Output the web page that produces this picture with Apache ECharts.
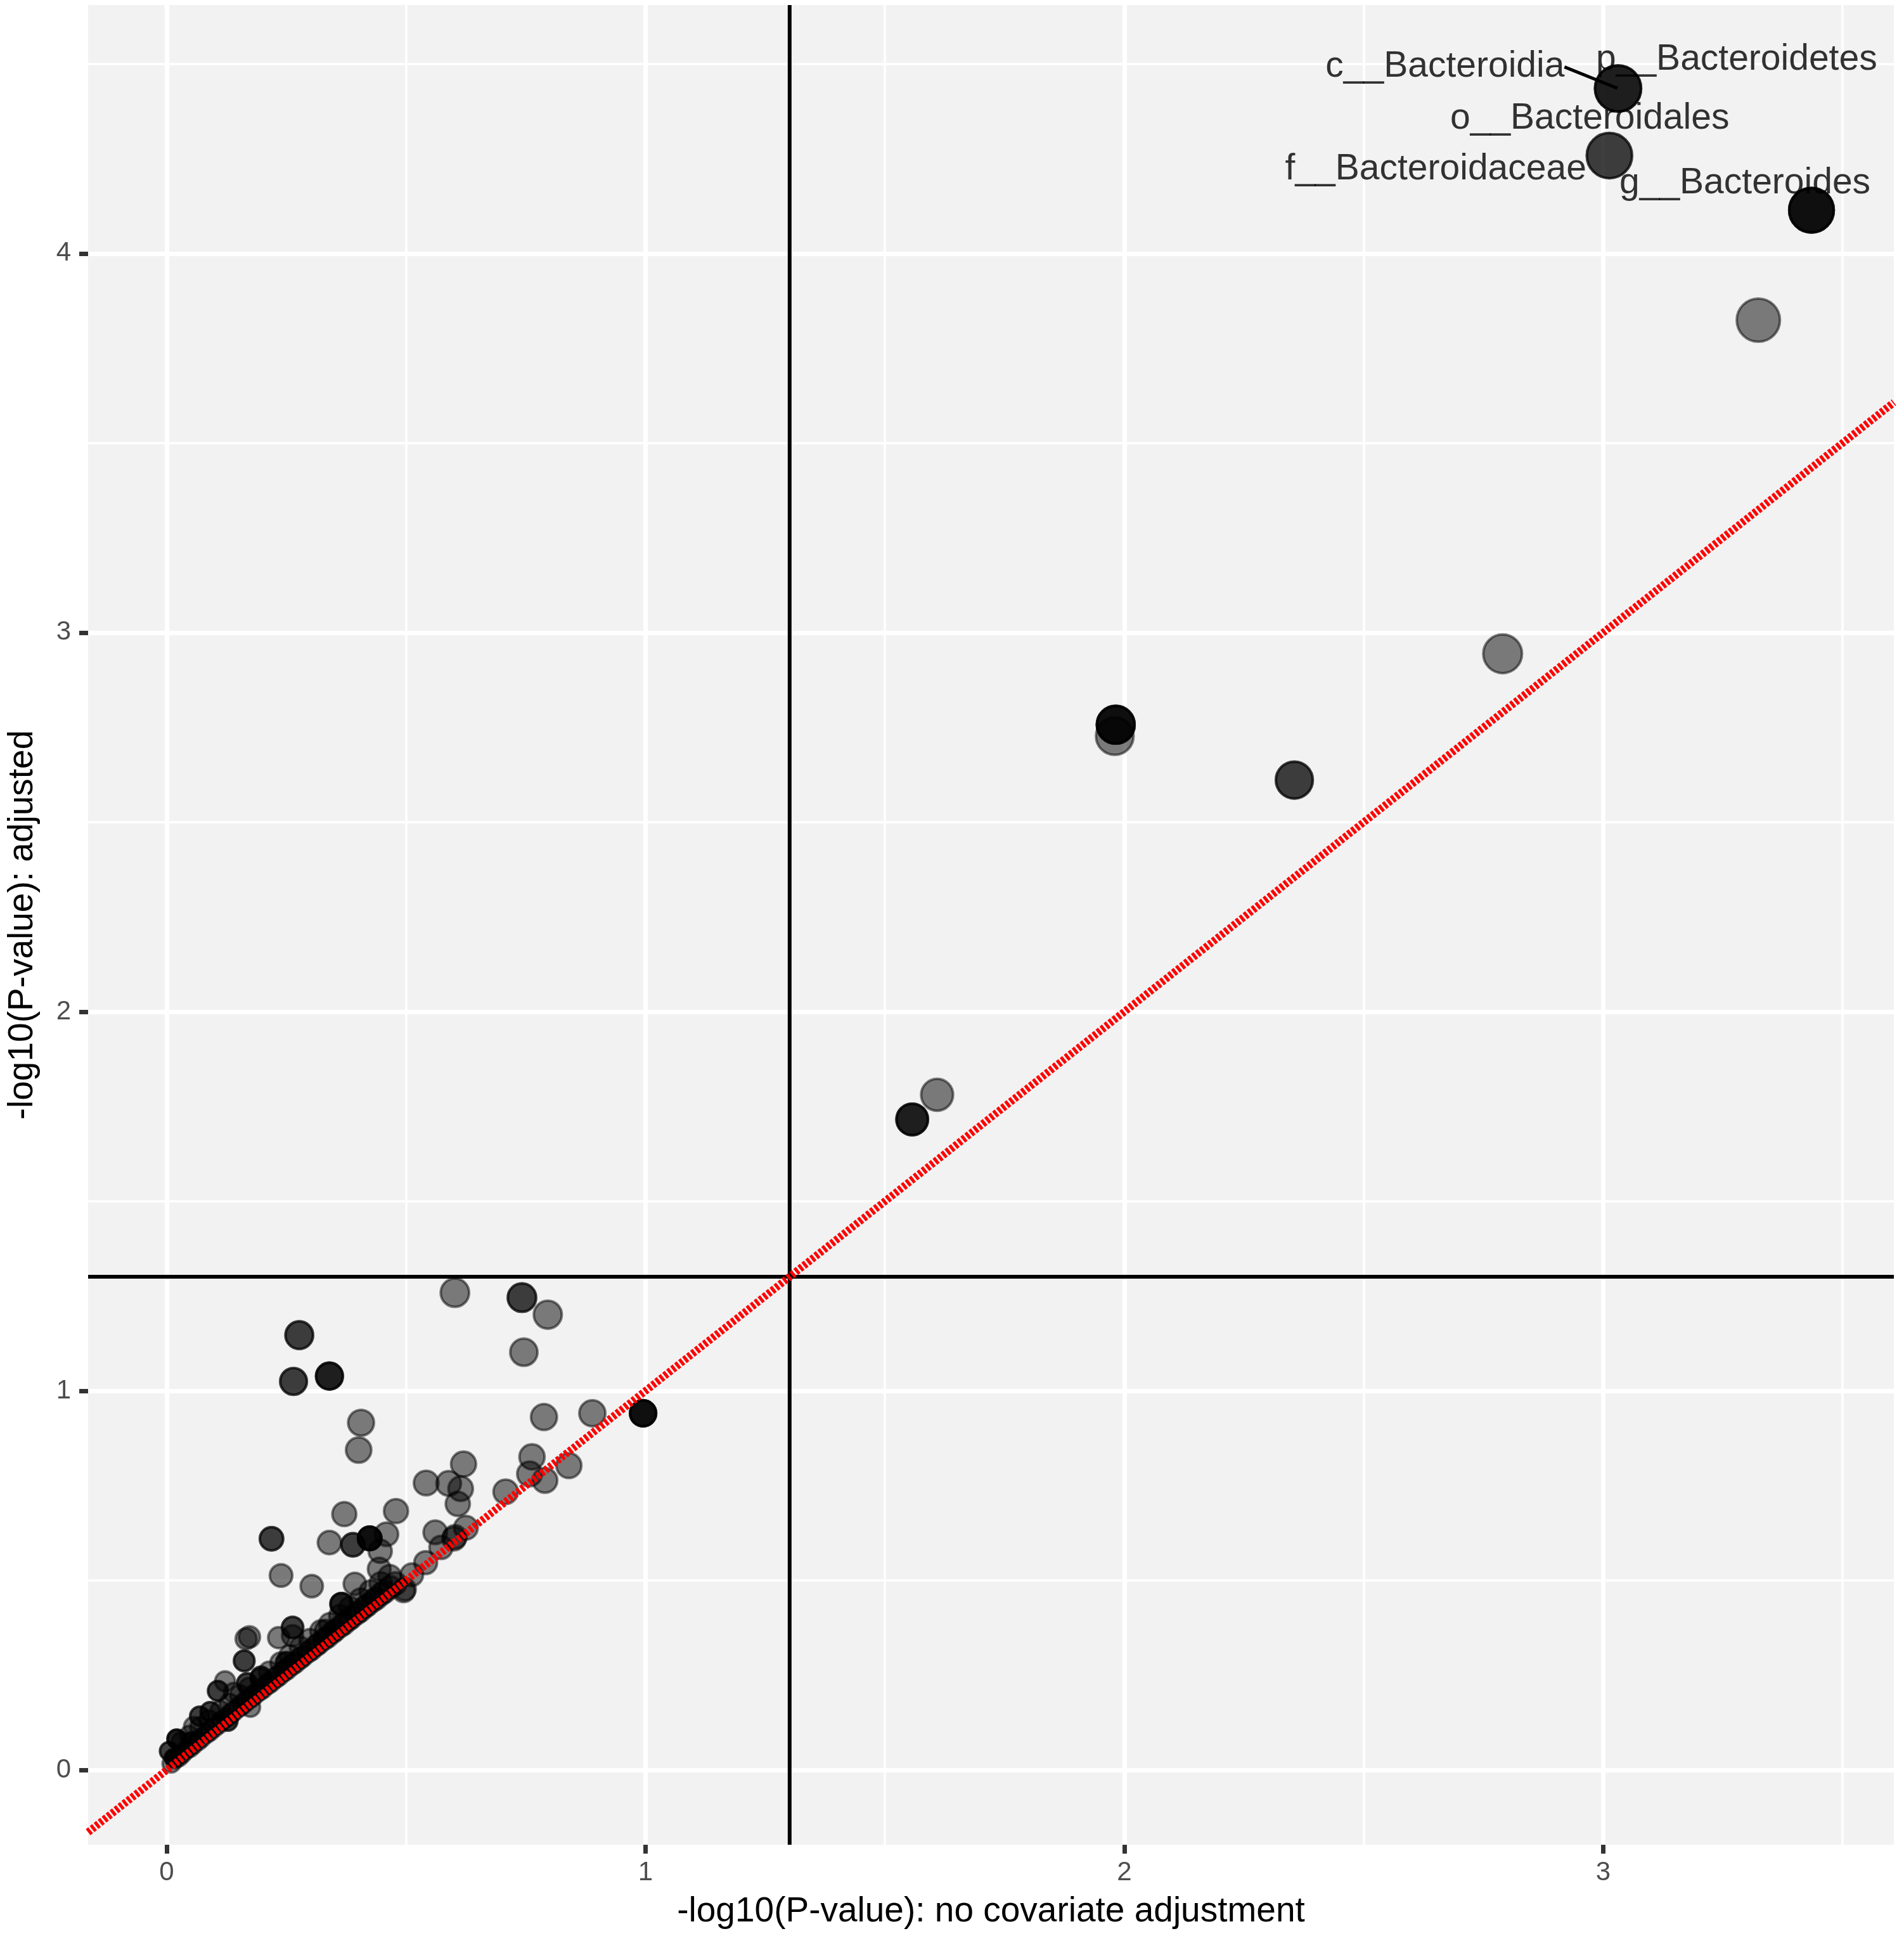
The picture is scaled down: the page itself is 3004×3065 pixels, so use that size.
<!DOCTYPE html>
<html>
<head>
<meta charset="utf-8">
<script src="https://cdn.jsdelivr.net/npm/echarts@6/dist/echarts.min.js"></script>
<style>
  html, body { margin: 0; padding: 0; background: #fff; }
  #container { width: 3004px; height: 3065px; }
</style>
</head>
<body>
<div id="container"></div>
<script>
// -log10(P) without covariate adjustment (x) and adjusted (y), one entry per taxon
// (taxa sitting on the same spot are listed more than once)
var noAdj = [
  3.031, 3.031, 3.031, 3.013, 3.013, 3.435, 3.435, 3.435, 3.435, 3.324,
  2.790, 2.355, 2.355, 1.982, 1.982, 1.982, 1.982, 1.980, 1.557, 1.557,
  1.557, 1.609, 0.995, 0.995, 0.995, 0.995,
  0.602, 0.742, 0.742, 0.796, 0.746, 0.277, 0.277, 0.265, 0.265, 0.340,
  0.340, 0.340, 0.406, 0.401, 0.788, 0.889, 0.763, 0.840, 0.758, 0.790,
  0.708, 0.620, 0.542, 0.589, 0.614, 0.608, 0.625, 0.561, 0.600, 0.479,
  0.371, 0.219, 0.219, 0.340, 0.389, 0.389, 0.424, 0.424, 0.424, 0.424,
  0.459, 0.446, 0.444, 0.239, 0.303, 0.393, 0.497, 0.365, 0.365, 0.365,
  0.166, 0.173, 0.234, 0.263, 0.263, 0.263, 0.332, 0.162, 0.162, 0.122,
  0.107, 0.107, 0.140, 0.168, 0.168, 0.197, 0.197, 0.250, 0.250, 0.069,
  0.069, 0.091, 0.091, 0.021, 0.021, 0.021, 0.005, 0.005, 0.015, 0.015,
  0.052, 0.052, 0.056, 0.175, 0.128, 0.128,
  0.495, 0.512, 0.541, 0.573, 0.602,
  0.010, 0.018, 0.026, 0.033, 0.041, 0.049, 0.056, 0.066, 0.073, 0.083,
  0.090, 0.099, 0.108, 0.115, 0.125, 0.133, 0.140, 0.151, 0.158, 0.166,
  0.176, 0.183, 0.193, 0.200, 0.210, 0.217, 0.227, 0.234, 0.244, 0.251,
  0.261, 0.268, 0.278, 0.284, 0.295, 0.302, 0.312, 0.318, 0.329, 0.336,
  0.346, 0.352, 0.363, 0.370, 0.380, 0.386, 0.397, 0.404, 0.414, 0.420,
  0.431, 0.438, 0.448, 0.455, 0.467, 0.478,
  0.030, 0.047, 0.069, 0.088, 0.112, 0.131, 0.153, 0.172, 0.196, 0.214,
  0.238, 0.257, 0.279, 0.299, 0.322, 0.341, 0.362, 0.383, 0.405, 0.426,
  0.447, 0.466
];
var adj = [
  4.435, 4.435, 4.435, 4.258, 4.258, 4.114, 4.114, 4.114, 4.114, 3.824,
  2.944, 2.611, 2.611, 2.757, 2.757, 2.757, 2.757, 2.727, 1.716, 1.716,
  1.716, 1.781, 0.941, 0.941, 0.941, 0.941,
  1.259, 1.246, 1.246, 1.201, 1.102, 1.147, 1.147, 1.025, 1.025, 1.039,
  1.039, 1.039, 0.916, 0.844, 0.931, 0.941, 0.826, 0.803, 0.781, 0.764,
  0.734, 0.807, 0.757, 0.756, 0.742, 0.702, 0.639, 0.627, 0.610, 0.683,
  0.675, 0.610, 0.610, 0.600, 0.594, 0.594, 0.611, 0.611, 0.611, 0.611,
  0.622, 0.577, 0.530, 0.513, 0.485, 0.491, 0.477, 0.438, 0.438, 0.438,
  0.346, 0.351, 0.349, 0.376, 0.376, 0.354, 0.368, 0.288, 0.288, 0.234,
  0.209, 0.209, 0.204, 0.229, 0.229, 0.246, 0.246, 0.284, 0.284, 0.142,
  0.142, 0.154, 0.154, 0.082, 0.082, 0.082, 0.050, 0.050, 0.032, 0.032,
  0.075, 0.075, 0.115, 0.166, 0.129, 0.129,
  0.472, 0.515, 0.547, 0.587, 0.615,
  0.017, 0.028, 0.034, 0.043, 0.053, 0.059, 0.067, 0.077, 0.085, 0.096,
  0.102, 0.112, 0.121, 0.130, 0.138, 0.148, 0.155, 0.166, 0.173, 0.182,
  0.191, 0.199, 0.209, 0.215, 0.226, 0.232, 0.243, 0.249, 0.260, 0.266,
  0.277, 0.283, 0.294, 0.300, 0.311, 0.317, 0.328, 0.334, 0.345, 0.351,
  0.362, 0.368, 0.379, 0.385, 0.396, 0.402, 0.413, 0.419, 0.430, 0.436,
  0.447, 0.453, 0.464, 0.470, 0.482, 0.492,
  0.075, 0.092, 0.114, 0.133, 0.157, 0.176, 0.198, 0.217, 0.241, 0.259,
  0.283, 0.302, 0.324, 0.344, 0.367, 0.386, 0.407, 0.428, 0.450, 0.471,
  0.492, 0.511
];

var taxa  = ['p__Bacteroidetes', 'c__Bacteroidia', 'o__Bacteroidales', 'f__Bacteroidaceae', 'g__Bacteroides'];
var taxaX = [3.031, 3.031, 3.013, 3.013, 3.435];
var taxaY = [4.435, 4.435, 4.258, 4.258, 4.114];

var xTicks = [0, 1, 2, 3];
var yTicks = [0, 1, 2, 3, 4];
var xMinor = [0.5, 1.5, 2.5, 3.5];
var yMinor = [0.5, 1.5, 2.5, 3.5, 4.5];
var cutoff = 1.30103; // -log10(0.05)

var X_MIN = -0.164, X_MAX = 3.607;
var Y_MIN = -0.197, Y_MAX = 4.655;
var FONT = "'Liberation Sans', Arial, Helvetica, sans-serif";

// where ggrepel put each label, in pixels from its point
var labelShift = [[187, -45], [-273, -34], [-31, -58], [-274, 22], [-105, -42]];

var dom = document.getElementById('container');
var myChart = echarts.init(dom, null, { renderer: 'canvas' });

var gridLines = [];
xMinor.forEach(function (v) { gridLines.push({ xAxis: v, lineStyle: { color: '#fff', width: 3.5, type: 'solid' } }); });
yMinor.forEach(function (v) { gridLines.push({ yAxis: v, lineStyle: { color: '#fff', width: 3.5, type: 'solid' } }); });
xTicks.forEach(function (v) { gridLines.push({ xAxis: v, lineStyle: { color: '#fff', width: 7, type: 'solid' } }); });
yTicks.forEach(function (v) { gridLines.push({ yAxis: v, lineStyle: { color: '#fff', width: 7, type: 'solid' } }); });

var points = noAdj.map(function (x, i) { return [x, adj[i]]; });
var labelled = taxa.map(function (name, i) {
  var item = { name: name, value: [taxaX[i], taxaY[i]] };
  if (name === 'c__Bacteroidia') {
    item.labelLine = { show: true, lineStyle: { color: '#000', width: 5 } };
  }
  return item;
});

function refLine(data, color, width, type) {
  return {
    type: 'line', z: 3, silent: true, showSymbol: false, symbol: 'none',
    data: data,
    lineStyle: { color: color, width: width, type: type, cap: 'butt' },
    emphasis: { disabled: true }
  };
}

var option = {
  animation: false,
  backgroundColor: '#ffffff',
  textStyle: { fontFamily: FONT },
  grid: {
    left: 137, right: 16, top: 8, bottom: 155,
    show: true, backgroundColor: '#F2F2F2', borderWidth: 0
  },
  xAxis: {
    type: 'value', min: X_MIN, max: X_MAX,
    name: '-log10(P-value): no covariate adjustment',
    nameLocation: 'middle', nameGap: 78,
    nameTextStyle: { fontSize: 55, color: '#000', fontFamily: FONT },
    axisLine: { show: false, onZero: false },
    splitLine: { show: false },
    axisTick: { show: true, customValues: xTicks, length: 14, lineStyle: { color: '#333', width: 7 } },
    axisLabel: { customValues: xTicks, fontSize: 42, color: '#4D4D4D', margin: 23, fontFamily: FONT }
  },
  yAxis: {
    type: 'value', min: Y_MIN, max: Y_MAX,
    name: '-log10(P-value): adjusted',
    nameLocation: 'middle', nameGap: 76,
    nameTextStyle: { fontSize: 55, color: '#000', fontFamily: FONT },
    axisLine: { show: false, onZero: false },
    splitLine: { show: false },
    axisTick: { show: true, customValues: yTicks, length: 14, lineStyle: { color: '#333', width: 7 } },
    axisLabel: { customValues: yTicks, fontSize: 42, color: '#4D4D4D', margin: 27, fontFamily: FONT }
  },
  series: [
    {
      // panel grid lines, kept under the points
      type: 'line', data: [], z: 0, silent: true,
      markLine: { z: 0, silent: true, symbol: ['none', 'none'], label: { show: false }, animation: false, data: gridLines }
    },
    {
      type: 'scatter', z: 2, silent: true,
      data: points,
      symbolSize: function (val) { return Math.sqrt(1000 + 1100 * val[1]) - 4; },
      itemStyle: { color: '#000', borderColor: '#000', borderWidth: 4, opacity: 0.5 },
      emphasis: { disabled: true }
    },
    refLine([[cutoff, Y_MIN], [cutoff, Y_MAX]], '#000', 6, 'solid'),
    refLine([[X_MIN, cutoff], [X_MAX, cutoff]], '#000', 6, 'solid'),
    refLine([[X_MIN, X_MIN], [X_MAX, X_MAX]], '#FF0000', 12, [5, 3]),
    {
      type: 'scatter', z: 6, silent: true,
      data: labelled,
      symbolSize: 2,
      itemStyle: { color: 'rgba(0,0,0,0)' },
      label: {
        show: true, position: 'inside', formatter: '{b}',
        fontSize: 57, color: '#000', fontFamily: FONT, align: 'center', verticalAlign: 'middle'
      },
      labelLayout: function (params) {
        var s = labelShift[params.dataIndex];
        return { dx: s[0], dy: s[1] };
      },
      labelLine: { show: false },
      emphasis: { disabled: true }
    }
  ]
};

myChart.setOption(option);
</script>
</body>
</html>
